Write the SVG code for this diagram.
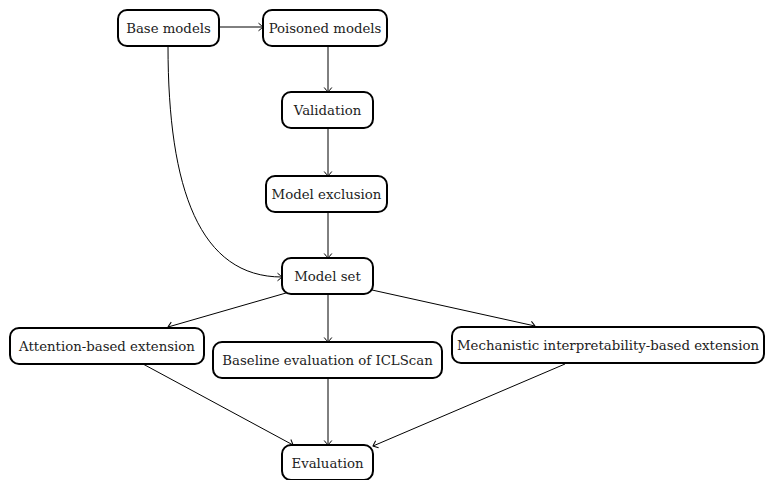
<svg xmlns="http://www.w3.org/2000/svg" width="765" height="480" viewBox="0 0 765 480">
<defs>
<marker id="ah" viewBox="-6 -5 7 10" refX="0" refY="0" markerWidth="7" markerHeight="10" markerUnits="userSpaceOnUse" orient="auto">
<path d="M -4.5,-3.8 Q -1.2,-1.2 0,0 Q -1.2,1.2 -4.5,3.8" fill="none" stroke="#000" stroke-width="1"/>
</marker>
<style>
.box{fill:#fff;stroke:#000;stroke-width:2}
text{font-family:'DejaVu Serif',serif;font-size:13.3px;fill:#222;text-anchor:middle}
.c{fill:none;stroke:#000;stroke-width:1;marker-end:url(#ah)}
</style>
</defs>
<rect width="765" height="480" fill="#fff"/>
<g id="connectors">
<path class="c" d="M219,27 L263,27"/>
<path class="c" d="M328,46 L328,92"/>
<path class="c" d="M328,128 L328,176"/>
<path class="c" d="M328,212 L328,258"/>
<path class="c" d="M168,46 C168,190 200,277 282,277"/>
<path class="c" d="M286,293 L168,327"/>
<path class="c" d="M328,294 L328,342"/>
<path class="c" d="M372,290 L535,326"/>
<path class="c" d="M143,364 L293,445"/>
<path class="c" d="M328,378 L328,445"/>
<path class="c" d="M565,364 L373,446"/>
</g>
<g id="base"><rect class="box" x="118" y="10" width="101" height="36" rx="9"/><text x="168.5" y="32.5">Base models</text></g>
<g id="poisoned"><rect class="box" x="263" y="10" width="124" height="36" rx="9"/><text x="325" y="32.5">Poisoned models</text></g>
<g id="validation"><rect class="box" x="282" y="92" width="91" height="36" rx="9"/><text x="327.5" y="114.5">Validation</text></g>
<g id="exclusion"><rect class="box" x="266" y="176" width="121" height="36" rx="9"/><text x="326.5" y="198.5">Model exclusion</text></g>
<g id="modelset"><rect class="box" x="282" y="258" width="91" height="36" rx="9"/><text x="327.5" y="280.5">Model set</text></g>
<g id="attention"><rect class="box" x="10" y="328" width="194" height="36" rx="9"/><text x="107" y="350.5">Attention-based extension</text></g>
<g id="baseline"><rect class="box" x="213" y="342" width="229" height="36" rx="9"/><text x="327.5" y="364.5">Baseline evaluation of ICLScan</text></g>
<g id="mechanistic"><rect class="box" x="452" y="327" width="312" height="36" rx="9"/><text x="608" y="349.5">Mechanistic interpretability-based extension</text></g>
<g id="evaluation"><rect class="box" x="282" y="445" width="91" height="35" rx="9"/><text x="327.5" y="467.5">Evaluation</text></g>
</svg>
